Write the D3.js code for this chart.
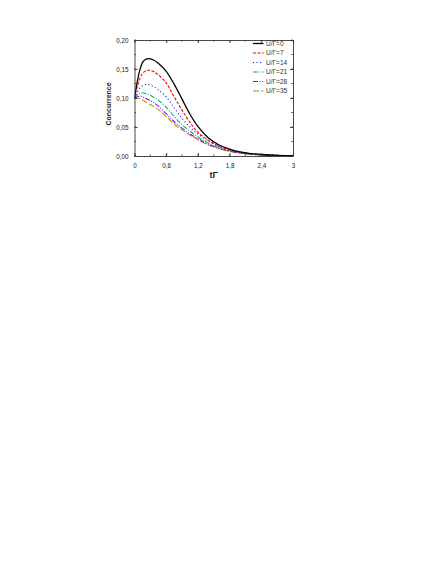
<!DOCTYPE html>
<html>
<head>
<meta charset="utf-8">
<script src="https://cdn.jsdelivr.net/npm/d3@7"></script>
<style>
  body { margin: 0; background: #fff; }
  svg { display: block; font-family: "Liberation Sans", Arial, sans-serif; }
</style>
</head>
<body>
<svg id="chart" width="436" height="564"></svg>
<script>
// time axis samples (tΓ)
var tVals = [0, 0.05, 0.1, 0.15, 0.2, 0.27, 0.35, 0.45, 0.6, 0.75, 0.9, 1.05, 1.2, 1.4, 1.6, 1.8, 2.0, 2.2, 2.4, 2.7, 3.0];

// concurrence, one list per U/Γ
var u0  = [0.100, 0.127, 0.148, 0.161, 0.166, 0.168, 0.166, 0.160, 0.146, 0.124, 0.098, 0.072, 0.051, 0.031, 0.019, 0.012, 0.0070, 0.0042, 0.0026, 0.0012, 0.0005];
var u7  = [0.100, 0.119, 0.133, 0.142, 0.146, 0.148, 0.146, 0.140, 0.126, 0.102, 0.079, 0.058, 0.041, 0.027, 0.017, 0.010, 0.0062, 0.0038, 0.0024, 0.0011, 0.0005];
var u14 = [0.100, 0.110, 0.117, 0.121, 0.123, 0.123, 0.120, 0.114, 0.102, 0.083, 0.065, 0.050, 0.038, 0.025, 0.016, 0.0095, 0.0058, 0.0036, 0.0022, 0.0010, 0.0004];
var u21 = [0.100, 0.105, 0.108, 0.109, 0.108, 0.106, 0.102, 0.096, 0.084, 0.068, 0.054, 0.043, 0.033, 0.022, 0.014, 0.0090, 0.0055, 0.0034, 0.0021, 0.0010, 0.0004];
var u28 = [0.100, 0.102, 0.103, 0.102, 0.100, 0.097, 0.093, 0.086, 0.073, 0.059, 0.048, 0.038, 0.030, 0.020, 0.013, 0.0085, 0.0052, 0.0032, 0.0020, 0.0009, 0.0004];
var u35 = [0.100, 0.100, 0.099, 0.097, 0.094, 0.090, 0.086, 0.080, 0.068, 0.055, 0.045, 0.036, 0.028, 0.019, 0.013, 0.0080, 0.0050, 0.0031, 0.0019, 0.0009, 0.0004];

var seriesNames = ["U/\u0393=0", "U/\u0393=7", "U/\u0393=14", "U/\u0393=21", "U/\u0393=28", "U/\u0393=35"];
var seriesVals = [u0, u7, u14, u21, u28, u35];
var seriesColors = ["#000000", "#ff0000", "#0000ff", "#00b080", "#a000f0", "#a0a000"];
var seriesDash = ["none", "3,1.5", "1,2.5", "5,1.5,1,1.5", "5,1.5,1,1.5,1,1.5", "6,2"];

var xTicks = [0, 0.6, 1.2, 1.8, 2.4, 3];
var xTickLabels = ["0", "0,6", "1,2", "1,8", "2,4", "3"];
var yTicks = [0, 0.05, 0.10, 0.15, 0.20];
var yTickLabels = ["0,00", "0,05", "0,10", "0,15", "0,20"];

var plot = {left: 134.5, top: 40, right: 293, bottom: 156};

var svg = d3.select("#chart");

var x = d3.scaleLinear().domain([0, 3]).range([plot.left, plot.right]);
var y = d3.scaleLinear().domain([0, 0.2]).range([plot.bottom, plot.top]);

var frameColor = "#333";

// clip for curves
svg.append("clipPath").attr("id", "clip")
  .append("rect")
  .attr("x", plot.left).attr("y", plot.top)
  .attr("width", plot.right - plot.left).attr("height", plot.bottom - plot.top);

var line = d3.line()
  .x(function(d) { return x(d[0]); })
  .y(function(d) { return y(d[1]); })
  .curve(d3.curveCatmullRom.alpha(0.5));

var g = svg.append("g").attr("clip-path", "url(#clip)");
// draw in reverse so black ends up on top
for (var i = seriesVals.length - 1; i >= 0; i--) {
  var pts = tVals.map(function(t, j) { return [t, seriesVals[i][j]]; });
  g.append("path")
    .datum(pts)
    .attr("d", line)
    .attr("fill", "none")
    .attr("stroke", seriesColors[i])
    .attr("stroke-width", i == 0 ? 1.3 : 1.1)
    .attr("stroke-dasharray", seriesDash[i]);
}

// axes, ticks pointing inward on all four sides
var xMinor = d3.range(0, 3.01, 0.3);
var yMinor = d3.range(0, 0.201, 0.025);

var bottomAxis = d3.axisBottom(x).tickValues(xTicks).tickSizeInner(-3).tickSizeOuter(0)
  .tickFormat(function(d, i) { return xTickLabels[i]; }).tickPadding(8);
var bAx = svg.append("g").attr("transform", "translate(0," + plot.bottom + ")").call(bottomAxis);

var leftAxis = d3.axisLeft(y).tickValues(yTicks).tickSizeInner(-3).tickSizeOuter(0)
  .tickFormat(function(d, i) { return yTickLabels[i]; }).tickPadding(6);
var lAx = svg.append("g").attr("transform", "translate(" + plot.left + ",0)").call(leftAxis);

var topAxis = d3.axisTop(x).tickValues(xTicks).tickSizeInner(-3).tickSizeOuter(0).tickFormat("");
var tAx = svg.append("g").attr("transform", "translate(0," + plot.top + ")").call(topAxis);

var rightAxis = d3.axisRight(y).tickValues(yTicks).tickSizeInner(-3).tickSizeOuter(0).tickFormat("");
var rAx = svg.append("g").attr("transform", "translate(" + plot.right + ",0)").call(rightAxis);

[bAx, lAx, tAx, rAx].forEach(function(a) {
  a.selectAll("path, line").attr("stroke", frameColor).attr("stroke-width", 0.9);
  a.selectAll("text").attr("fill", "#222").style("font-size", "6.3px").attr("font-family", "Liberation Sans, Arial, sans-serif");
});

// minor ticks
svg.append("g").selectAll("line.mx").data(xMinor).enter().append("line")
  .attr("x1", function(d) { return x(d); }).attr("x2", function(d) { return x(d); })
  .attr("y1", plot.bottom).attr("y2", plot.bottom - 1.6)
  .attr("stroke", frameColor).attr("stroke-width", 0.8);
svg.append("g").selectAll("line.mxt").data(xMinor).enter().append("line")
  .attr("x1", function(d) { return x(d); }).attr("x2", function(d) { return x(d); })
  .attr("y1", plot.top).attr("y2", plot.top + 1.6)
  .attr("stroke", frameColor).attr("stroke-width", 0.8);
svg.append("g").selectAll("line.my").data(yMinor).enter().append("line")
  .attr("x1", plot.left).attr("x2", plot.left + 1.6)
  .attr("y1", function(d) { return y(d); }).attr("y2", function(d) { return y(d); })
  .attr("stroke", frameColor).attr("stroke-width", 0.8);
svg.append("g").selectAll("line.myr").data(yMinor).enter().append("line")
  .attr("x1", plot.right).attr("x2", plot.right - 1.6)
  .attr("y1", function(d) { return y(d); }).attr("y2", function(d) { return y(d); })
  .attr("stroke", frameColor).attr("stroke-width", 0.8);

// axis titles
svg.append("text")
  .attr("x", (plot.left + plot.right) / 2)
  .attr("y", 178)
  .attr("text-anchor", "middle")
  .style("font-size", "9px")
  .style("font-weight", "bold")
  .attr("fill", "#222")
  .text("t\u0393");

svg.append("text")
  .attr("transform", "translate(111," + ((plot.top + plot.bottom) / 2 + 6) + ") rotate(-90)")
  .attr("text-anchor", "middle")
  .style("font-size", "7px")
  .style("font-weight", "bold")
  .attr("fill", "#222")
  .text("Concurrence");

// legend
var legend = svg.append("g");
seriesNames.forEach(function(name, i) {
  var ly = 43.5 + i * 9.5;
  legend.append("line")
    .attr("x1", 253).attr("x2", 263.5)
    .attr("y1", ly).attr("y2", ly)
    .attr("stroke", seriesColors[i])
    .attr("stroke-width", i == 0 ? 1.3 : 1.1)
    .attr("stroke-dasharray", seriesDash[i]);
  legend.append("text")
    .attr("x", 266)
    .attr("y", ly + 2.3)
    .style("font-size", "6.5px")
    .attr("fill", "#333")
    .text(name);
});
</script>
</body>
</html>
